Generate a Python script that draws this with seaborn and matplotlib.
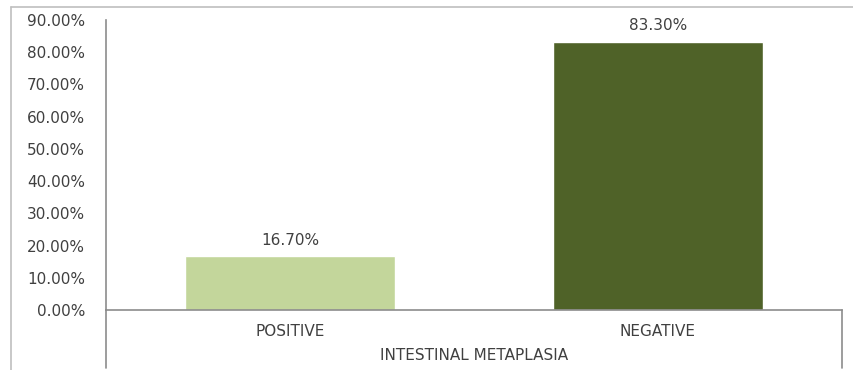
import matplotlib
matplotlib.use("Agg")
import matplotlib.pyplot as plt
import seaborn as sns
import pandas as pd
from matplotlib.lines import Line2D
from matplotlib.ticker import FuncFormatter, MultipleLocator

categories = ["POSITIVE", "NEGATIVE"]
values = [16.70, 83.30]
colors = ["#C3D69B", "#4F6228"]
group_label = "INTESTINAL METAPLASIA"

sns.set_theme(style="white")
plt.rcParams["font.family"] = ["DejaVu Sans"]
text_color = "#404040"
line_color = "#8C8C8C"
fs = 11

df = pd.DataFrame({"cat": categories, "val": values})

fig = plt.figure(figsize=(8.54, 3.70), dpi=100)
ax = fig.add_axes([106/854, 1-310/370, (842-106)/854, 290/370])

sns.barplot(data=df, x="cat", y="val", hue="cat", palette=colors,
            width=0.57, legend=False, ax=ax, saturation=1)

ax.set_ylim(0, 90)
ax.yaxis.set_major_locator(MultipleLocator(10))
ax.yaxis.set_major_formatter(FuncFormatter(lambda v, p: f"{v:.2f}%"))
ax.set_xlabel("")
ax.set_ylabel("")
ax.tick_params(axis="y", length=0, pad=15, labelsize=fs, labelcolor=text_color)
ax.tick_params(axis="x", length=0, pad=10, labelsize=fs, labelcolor=text_color)

for s in ["top", "right"]:
    ax.spines[s].set_visible(False)
for s in ["left", "bottom"]:
    ax.spines[s].set_color(line_color)
    ax.spines[s].set_linewidth(1.2)

for c in ax.containers:
    ax.bar_label(c, fmt="%.2f%%", padding=6, fontsize=fs, color=text_color)

# extended vertical lines below the axis
ybot = -(368-310)/290
for xx in (0, 1):
    ax.add_line(Line2D([xx, xx], [0, ybot], transform=ax.transAxes,
                       color=line_color, lw=1.2, clip_on=False))

ax.text(0.5, -(355-310)/290, group_label, transform=ax.transAxes,
        ha="center", va="center", fontsize=fs, color=text_color)

# figure frame (top and left)
fig.add_artist(Line2D([11/854, 1], [1-7/370, 1-7/370], transform=fig.transFigure,
                      color="#BFBFBF", lw=1.2))
fig.add_artist(Line2D([11/854, 11/854], [1-7/370, 0], transform=fig.transFigure,
                      color="#BFBFBF", lw=1.2))

fig.savefig("out.png", dpi=100)
